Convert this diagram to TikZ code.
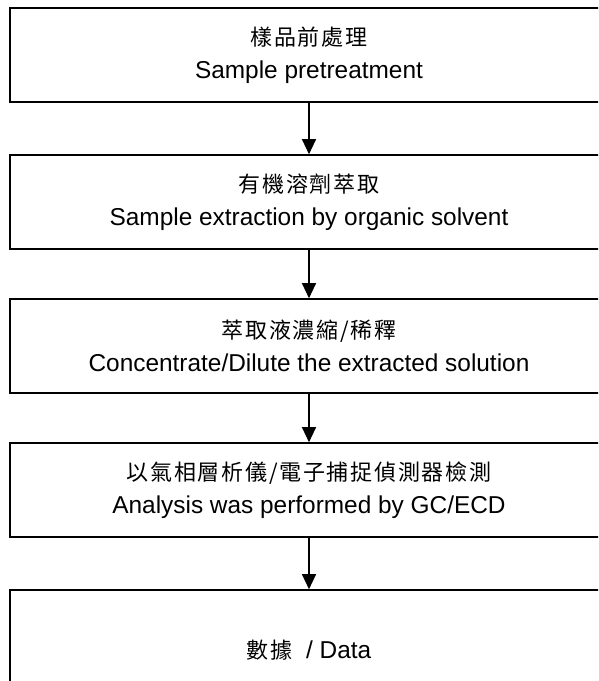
\documentclass[tikz,border=0pt]{standalone}
\usepackage{fontspec}
\setmainfont{Liberation Sans}
\newfontfamily\zhfont[LetterSpace=8]{Noto Sans CJK TC}
\usetikzlibrary{arrows.meta}
\usetikzlibrary{positioning}

\begin{document}
\begin{tikzpicture}[x=1pt,y=1pt,
  procbox/.style={draw,line width=1.6pt,minimum width=598pt,minimum height=94pt,
    inner sep=0pt,align=center,font=\fontsize{24.4pt}{33pt}\selectfont},
  flowarrow/.style={line width=1.2pt,-{Triangle[length=15pt,width=14pt]}}]
\newcommand{\zhline}[1]{{\zhfont\fontsize{22pt}{33pt}\selectfont #1}}

\useasboundingbox (0,0) rectangle (598,681);
\clip (0,0) rectangle (598,681);

\node[procbox] (pretreat) at (309,626) {\zhline{樣品前處理}\\Sample pretreatment};
\node[procbox] (extract) at (309,479) {\zhline{有機溶劑萃取}\\Sample extraction by organic solvent};
\node[procbox] (concdil) at (309,335) {\zhline{萃取液濃縮/稀釋}\\Concentrate/Dilute the extracted solution};
\node[procbox] (gcecd) at (309,191) {\zhline{以氣相層析儀/電子捕捉偵測器檢測}\\Analysis was performed by GC/ECD};
\node[procbox,minimum height=120pt] (data) at (309,31) {\zhline{數據}\ \ / Data};

\draw[flowarrow] (pretreat) -- (extract);
\draw[flowarrow] (extract) -- (concdil);
\draw[flowarrow] (concdil) -- (gcecd);
\draw[flowarrow] (gcecd) -- (data);

\end{tikzpicture}
\end{document}
